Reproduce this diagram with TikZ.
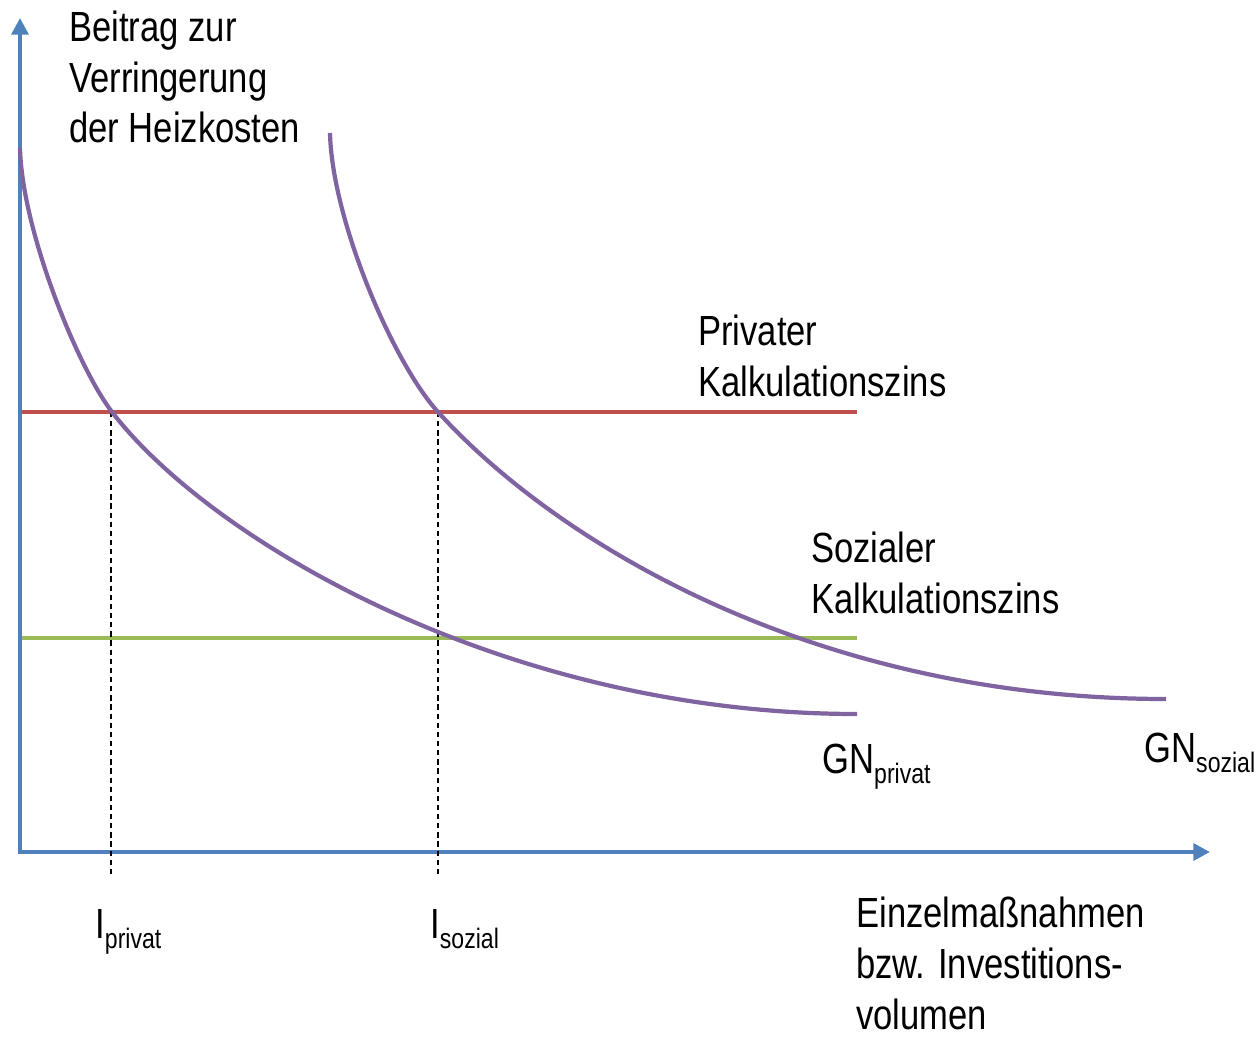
\documentclass[tikz,border=0pt]{standalone}
\usepackage{fontspec}
\setmainfont{Liberation Sans}[FakeStretch=0.82]
\usetikzlibrary{arrows.meta}
\definecolor{axisblue}{RGB}{79,129,189}
\definecolor{zinsred}{RGB}{192,80,77}
\definecolor{zinsgreen}{RGB}{155,187,89}
\definecolor{gnpurple}{RGB}{128,100,162}
\newcommand{\lowsub}[1]{\raisebox{-6pt}{\fontsize{16}{16}\selectfont #1}}

\begin{document}
\begin{tikzpicture}[x=0.2cm, y=0.2cm,
    lbl/.style={inner sep=0pt, anchor=base west, align=left, font=\fontsize{24}{29}\selectfont},
    zins/.style={line width=2.8pt},
    gn/.style={gnpurple, line width=2.4pt},
    helpline/.style={black, line width=1.4pt, dash pattern=on 3pt off 2.2pt}]
        \useasboundingbox (0,0) rectangle (125.9,103.7);
        \def\xend{85.7}

        % Blue - Achsen
        \coordinate (ytip) at (2,101.9);
        \coordinate (xtip) at (121,18.5);
        \draw[axisblue, line width=2.8pt, {Triangle[length=9.5pt,width=9.5pt]}-{Triangle[length=9.5pt,width=9.5pt]}] (ytip) |- (xtip);

        % Red - privater Kalkulationszins
        \coordinate (rot0) at (2.2,62.5);
        \coordinate (rot1) at (\xend,62.5);
        \draw[zins, zinsred] (rot0) -- (rot1);

        % Green - sozialer Kalkulationszins
        \coordinate (gruen0) at (2.2,39.9);
        \coordinate (gruen1) at (\xend,39.9);
        \draw[zins, zinsgreen] (gruen0) -- (gruen1);

        % Dashed - I privat, I sozial
        \coordinate (ip0) at (11.1,62.5);
        \coordinate (ip1) at (11.1,15.9);
        \coordinate (is0) at (43.8,62.5);
        \coordinate (is1) at (43.8,15.9);
        \draw[helpline] (ip0) -- (ip1);
        \draw[helpline] (is0) -- (is1);

        % Purple - GN privat
        \draw[gn] (2.0,88.9) .. controls (2.2,80.7) and (7.7,67.1) .. (11.2,62.5)
            .. controls (21.2,49.5) and (50.7,32.3) .. (\xend,32.3);
        % Purple - GN sozial
        \draw[gn] (33.0,90.4) .. controls (33.2,81.7) and (39.3,67.45) .. (43.8,62.5)
            .. controls (55.8,49.3) and (81.6,33.8) .. (116.6,33.8);

        % Labels
        \node[lbl] (yachse) at (6.9,89.4) {Beitrag zur\\Verringerung\\der Heizkosten};
        \node[lbl] (privzins) at (69.8,64.1) {Privater\\Kalkulationszins};
        \node[lbl] (sozzins) at (81.1,42.4) {Sozialer\\Kalkulationszins};
        \node[lbl] (gnpriv) at (82.2,26.4) {GN\lowsub{privat}};
        \node[lbl] (gnsoz) at (114.4,27.5) {GN\lowsub{sozial}};
        \node[lbl] (ipriv) at (9.5,9.9) {I\lowsub{privat}};
        \node[lbl] (isoz) at (43.0,9.9) {I\lowsub{sozial}};
        \node[lbl] (xachse) at (85.6,0.8) {Einzelmaßnahmen\\bzw. Investitions-\\volumen};
    \end{tikzpicture}
\end{document}
